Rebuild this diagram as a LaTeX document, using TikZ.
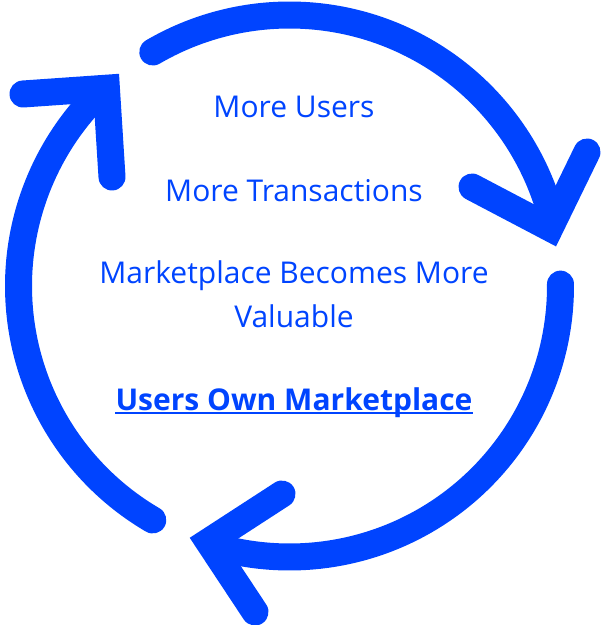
\documentclass[tikz,border=0pt]{standalone}
\usepackage{xcolor}
\usepackage{fontspec}
\setmainfont{Open Sans}
\definecolor{cycblue}{HTML}{0044FF}
\tikzset{
  loopline/.style={draw=cycblue, line width=27, line cap=round},
  tiphead/.style={loopline, line join=miter},
  steptext/.style={text=cycblue, inner sep=0, anchor=base, align=center,
    font=\fontsize{30}{43.3}\selectfont}
}
\begin{document}
\begin{tikzpicture}[x=1pt,y=1pt]
    \useasboundingbox (0,0) rectangle (602,625);
    \coordinate (c) at (289.5,339);
    % Arcs
    \draw[loopline] (c) ++(239.7:271) arc (239.7:134:271);
    \draw[loopline] (c) ++(120.3:271) arc (120.3:14:271);
    \draw[loopline] (c) ++(0.4:271) arc (0.4:-106.5:271);
    % Heads
    \draw[tiphead] (23,531) -- (106.4,536.8) -- (112,448);
    \draw[tiphead] (472,438) -- (550,397) -- (587,473);
    \draw[tiphead] (282,131) -- (208.5,83.3) -- (255,13);

    \node[steptext] (users) at (294,507) {More Users};
    \node[steptext] (trans) at (294,423.3) {More Transactions};
    % base of a two-line node is its last line
    \node[steptext] (value) at (294,297.7) {Marketplace Becomes More\\Valuable};
    \node[steptext, font=\fontsize{30}{43.3}\selectfont\bfseries] (own) at (294,214.5) {Users Own Marketplace};
    \draw[cycblue, line width=2] ([yshift=-3]own.base west) -- ([yshift=-3]own.base east);

\end{tikzpicture}
\end{document}
